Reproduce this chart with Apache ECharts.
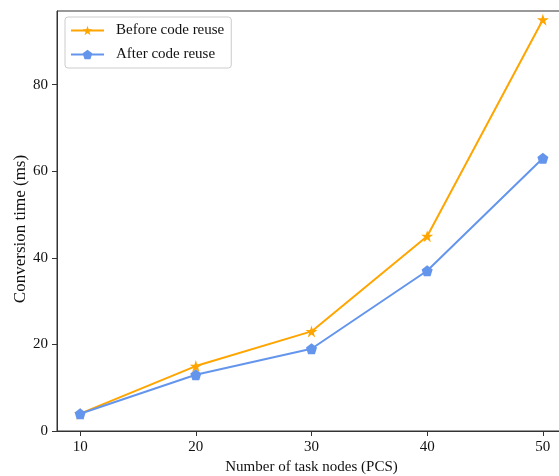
<!DOCTYPE html>
<html>
<head>
<meta charset="utf-8">
<script src="https://cdn.jsdelivr.net/npm/echarts@6/dist/echarts.min.js"></script>
<style>html,body{margin:0;padding:0;background:#fff;}#c{width:559px;height:476px;}</style>
</head>
<body>
<div id="c"></div>
<script>
const nodes = [10, 20, 30, 40, 50];
const beforeReuse = [4, 15, 23, 45, 95];
const afterReuse = [4, 13, 19, 37, 63];
const xTicks = [10, 20, 30, 40, 50];
const yTicks = [0, 20, 40, 60, 80];

const STAR = 'path://M0 -100 L22.45 -30.9 L95.1 -30.9 L36.3 11.8 L58.8 80.9 L0 38.2 L-58.8 80.9 L-36.3 11.8 L-95.1 -30.9 L-22.45 -30.9 Z';
const PENTA = 'path://M0 -100 L95.1 -30.9 L58.8 80.9 L-58.8 80.9 L-95.1 -30.9 Z';
const font = 'Liberation Serif';
const chart = echarts.init(document.getElementById('c'), null, {renderer: 'canvas'});
chart.setOption({
  animation: false,
  grid: {left: 57, top: 11, width: 509, height: 420, show: true, borderColor: '#333', borderWidth: 1,
         containLabel: false, outerBoundsMode: 'none'},
  legend: {
    orient: 'vertical', left: 65, top: 17,
    padding: [6, 7, 6, 5], itemGap: 9, itemWidth: 33, itemHeight: 12,
    borderColor: '#ccc', borderWidth: 1, borderRadius: 3,
    textStyle: {fontFamily: font, fontSize: 15, color: '#111', padding: [0, 0, 0, 7]},
    data: ['Before code reuse', 'After code reuse']
  },
  xAxis: {
    type: 'value', min: 8, max: 52,
    name: 'Number of task nodes (PCS)', nameLocation: 'middle', nameGap: 29, nameMoveOverlap: false,
    nameTextStyle: {fontFamily: font, fontSize: 15, color: '#111'},
    axisLine: {show: true, lineStyle: {color: '#333', width: 1}},
    axisTick: {show: true, length: 5, inside: false, customValues: xTicks, lineStyle: {color: '#333'}},
    axisLabel: {customValues: xTicks, fontFamily: font, fontSize: 15, color: '#111', margin: 9},
    splitLine: {show: false}
  },
  yAxis: {
    type: 'value', min: 0, max: 97,
    name: 'Conversion time (ms)', nameLocation: 'middle', nameGap: 28, nameMoveOverlap: false,
    nameTextStyle: {fontFamily: font, fontSize: 17, color: '#111', padding: [0, 16, 0, 0]},
    axisLine: {show: true, lineStyle: {color: '#333', width: 1}},
    axisTick: {show: true, length: 5, inside: false, customValues: yTicks, lineStyle: {color: '#333'}},
    axisLabel: {customValues: yTicks, fontFamily: font, fontSize: 15, color: '#111', margin: 9},
    splitLine: {show: false}
  },
  series: [
    {
      name: 'Before code reuse', type: 'line',
      data: nodes.map((x, i) => [x, beforeReuse[i]]),
      symbol: STAR, symbolSize: 12, showAllSymbol: true,
      lineStyle: {color: '#FFA500', width: 2}, itemStyle: {color: '#FFA500'}
    },
    {
      name: 'After code reuse', type: 'line',
      data: nodes.map((x, i) => [x, afterReuse[i]]),
      symbol: PENTA, symbolSize: 11, showAllSymbol: true,
      lineStyle: {color: '#6495ED', width: 2}, itemStyle: {color: '#6495ED'}
    }
  ]
});
</script>
</body>
</html>
